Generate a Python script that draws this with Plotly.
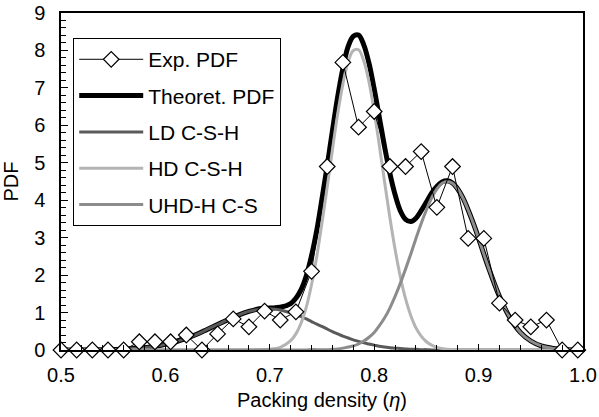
import plotly.graph_objects as go

# Experimental PDF (diamonds)
exp_x = [0.500, 0.515, 0.530, 0.545, 0.560, 0.575, 0.590, 0.605, 0.620, 0.635,
         0.650, 0.665, 0.680, 0.695, 0.710, 0.725, 0.740, 0.755, 0.770, 0.785,
         0.800, 0.815, 0.830, 0.845, 0.860, 0.875, 0.890, 0.905, 0.920, 0.935,
         0.950, 0.965, 0.980, 0.995]
exp_y = [0.0, 0.0, 0.0, 0.0, 0.0, 0.22, 0.22, 0.22, 0.40, 0.0,
         0.43, 0.83, 0.62, 1.04, 0.80, 1.02, 2.10, 4.90, 7.68, 5.95,
         6.37, 4.90, 4.90, 5.30, 3.81, 4.90, 2.98, 2.98, 1.25, 0.80,
         0.62, 0.80, 0.0, 0.0]

# Fitted curves
curve_x = [0.50, 0.56, 0.57, 0.58, 0.59, 0.60, 0.61, 0.62, 0.63, 0.64, 0.65,
           0.66, 0.67, 0.68, 0.69, 0.70, 0.71, 0.72, 0.725, 0.73, 0.735, 0.74,
           0.745, 0.75, 0.755, 0.76, 0.765, 0.77, 0.775, 0.78, 0.785, 0.79,
           0.795, 0.80, 0.805, 0.81, 0.815, 0.82, 0.825, 0.83, 0.835, 0.84,
           0.845, 0.85, 0.855, 0.86, 0.865, 0.87, 0.875, 0.88, 0.885, 0.89,
           0.895, 0.90, 0.905, 0.91, 0.92, 0.93, 0.94, 0.95, 0.96, 0.97,
           0.98, 0.99, 1.00]
ld_y = [0.0, 0.02, 0.04, 0.06, 0.10, 0.15, 0.22, 0.31, 0.42, 0.55, 0.68,
        0.81, 0.93, 1.03, 1.09, 1.10, 1.07, 0.99, 0.95, 0.89, 0.83, 0.76,
        0.69, 0.63, 0.56, 0.49, 0.43, 0.37, 0.32, 0.27, 0.23, 0.19,
        0.16, 0.13, 0.10, 0.08, 0.06, 0.05, 0.04, 0.03, 0.02, 0.02,
        0.01, 0.01, 0.0, 0.0, 0.0, 0.0, 0.0, 0.0, 0.0, 0.0,
        0.0, 0.0, 0.0, 0.0, 0.0, 0.0, 0.0, 0.0, 0.0, 0.0,
        0.0, 0.0, 0.0]
hd_y = [0.0, 0.0, 0.0, 0.0, 0.0, 0.0, 0.0, 0.0, 0.0, 0.0, 0.0,
        0.0, 0.0, 0.0, 0.01, 0.02, 0.07, 0.25, 0.43, 0.72, 1.15, 1.75,
        2.50, 3.40, 4.35, 5.35, 6.30, 7.10, 7.70, 8.00, 8.02, 7.72,
        7.16, 6.37, 5.45, 4.48, 3.54, 2.69, 1.96, 1.37, 0.92, 0.59,
        0.37, 0.22, 0.13, 0.07, 0.04, 0.02, 0.01, 0.0, 0.0, 0.0,
        0.0, 0.0, 0.0, 0.0, 0.0, 0.0, 0.0, 0.0, 0.0, 0.0,
        0.0, 0.0, 0.0]
uhd_y = [0.0, 0.0, 0.0, 0.0, 0.0, 0.0, 0.0, 0.0, 0.0, 0.0, 0.0,
         0.0, 0.0, 0.0, 0.0, 0.0, 0.0, 0.0, 0.0, 0.0, 0.0, 0.01,
         0.01, 0.01, 0.01, 0.02, 0.03, 0.05, 0.08, 0.11, 0.16, 0.24,
         0.34, 0.47, 0.65, 0.86, 1.12, 1.43, 1.78, 2.16, 2.56, 2.98,
         3.38, 3.74, 4.06, 4.30, 4.45, 4.50, 4.45, 4.30, 4.06, 3.74,
         3.38, 2.98, 2.56, 2.16, 1.43, 0.86, 0.47, 0.24, 0.11, 0.05,
         0.02, 0.0, 0.0]
theo_y = [0.0, 0.02, 0.04, 0.06, 0.10, 0.15, 0.22, 0.31, 0.42, 0.55, 0.68,
          0.81, 0.93, 1.03, 1.10, 1.12, 1.14, 1.24, 1.38, 1.61, 1.98, 2.52,
          3.20, 4.04, 4.92, 5.86, 6.76, 7.52, 8.10, 8.38, 8.41, 8.15,
          7.66, 6.97, 6.20, 5.42, 4.72, 4.15, 3.72, 3.49, 3.43, 3.52,
          3.72, 3.95, 4.19, 4.37, 4.49, 4.52, 4.46, 4.30, 4.06, 3.74,
          3.38, 2.98, 2.56, 2.16, 1.43, 0.86, 0.47, 0.24, 0.11, 0.05,
          0.02, 0.0, 0.0]

x_ticks = [0.5, 0.6, 0.7, 0.8, 0.9, 1.0]
x_ticklabels = ["0.5", "0.6", "0.7", "0.8", "0.9", "1.0"]
y_ticks = [0, 1, 2, 3, 4, 5, 6, 7, 8, 9]

FONT = "Liberation Sans, Arial, Helvetica, sans-serif"

fig = go.Figure()
fig.add_trace(go.Scatter(x=curve_x, y=theo_y, mode="lines", name="Theoret. PDF",
                         line=dict(color="#000000", width=5, shape="spline"),
                         legendgroup="b", legendrank=2))
fig.add_trace(go.Scatter(x=curve_x, y=ld_y, mode="lines", name="LD C-S-H",
                         line=dict(color="#5a5a5a", width=3, shape="spline"),
                         legendgroup="c", legendrank=3))
fig.add_trace(go.Scatter(x=curve_x, y=hd_y, mode="lines", name="HD C-S-H",
                         line=dict(color="#b4b4b4", width=3, shape="spline"),
                         legendgroup="d", legendrank=4))
fig.add_trace(go.Scatter(x=curve_x, y=uhd_y, mode="lines", name="UHD-H C-S",
                         line=dict(color="#8c8c8c", width=3, shape="spline"),
                         legendgroup="e", legendrank=5))
fig.add_trace(go.Scatter(x=exp_x, y=exp_y, mode="lines+markers", name="Exp. PDF",
                         line=dict(color="#000000", width=1),
                         marker=dict(symbol="diamond", size=12, color="white",
                                     line=dict(color="#000000", width=1.2)),
                         cliponaxis=False, legendgroup="a", legendrank=1))

fig.update_layout(
    width=599, height=417,
    margin=dict(l=61, r=16, t=13, b=67, autoexpand=False),
    paper_bgcolor="white", plot_bgcolor="white",
    font=dict(family=FONT, size=20, color="black"),
    showlegend=True,
    legend=dict(x=0.023, y=0.926, xanchor="left", yanchor="top",
                bgcolor="white", bordercolor="black", borderwidth=1.2,
                font=dict(family=FONT, size=21, color="black"),
                itemwidth=64, traceorder="grouped", tracegroupgap=6,
                entrywidth=240),
    xaxis=dict(range=[0.5, 1.0], tickvals=x_ticks, ticktext=x_ticklabels,
               ticks="inside", ticklen=6, tickwidth=1, tickcolor="black",
               showline=True, linecolor="black", linewidth=1.5, mirror=True,
               showgrid=False, zeroline=False, ticklabelstandoff=6,
               automargin=False,
               tickfont=dict(family=FONT, size=20),
               minor=dict(dtick=0.02, ticks="inside", ticklen=5, tickcolor="black", showgrid=False),
               title=dict(text="Packing density (<i>η</i>)", standoff=8,
                          font=dict(family=FONT, size=20))),
    yaxis=dict(range=[0, 9], tickvals=y_ticks,
               ticks="inside", ticklen=7, tickwidth=1, tickcolor="black",
               showline=True, linecolor="black", linewidth=1.5, mirror=True,
               showgrid=False, zeroline=False, ticklabelstandoff=10,
               automargin=False,
               tickfont=dict(family=FONT, size=20),
               minor=dict(dtick=0.2, ticks="inside", ticklen=5, tickcolor="black", showgrid=False),
               title=dict(text="PDF", standoff=10, font=dict(family=FONT, size=20))),
)

fig.write_html("out.html")
